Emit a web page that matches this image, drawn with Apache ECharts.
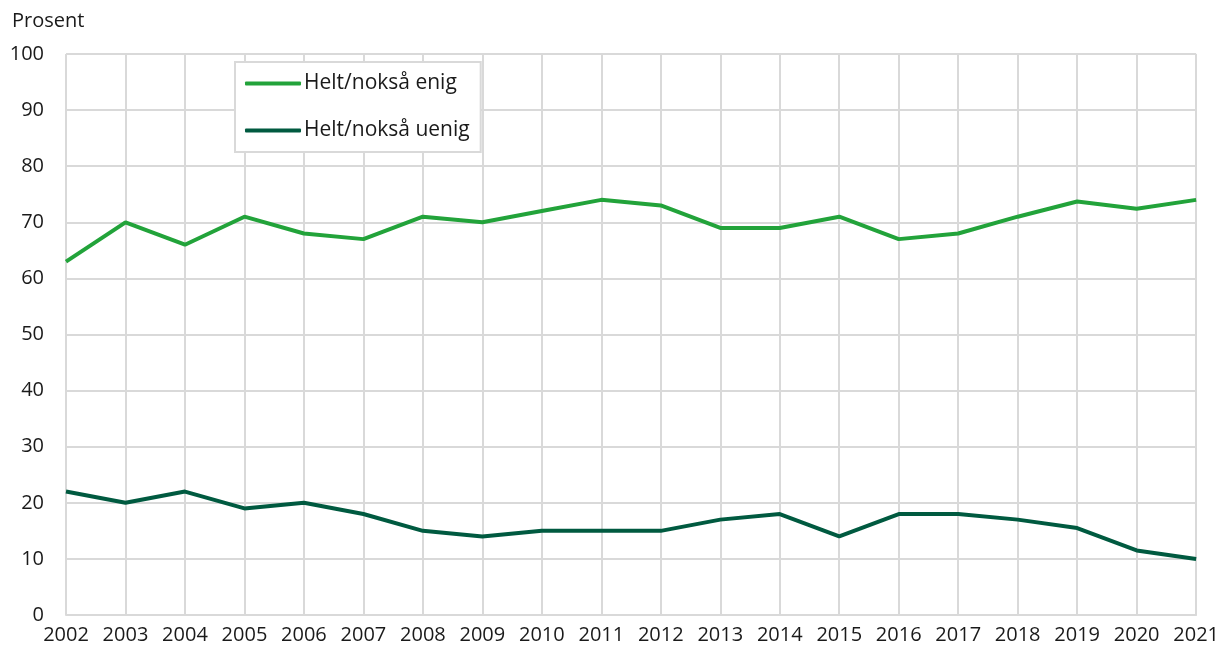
<!DOCTYPE html>
<html>
<head>
<meta charset="utf-8">
<script src="https://cdn.jsdelivr.net/npm/echarts@6/dist/echarts.min.js"></script>
<style>
  html, body { margin: 0; padding: 0; background: #fff; }
  #chart { width: 1222px; height: 648px; }
</style>
</head>
<body>
<div id="chart"></div>
<script>
var years = ['2002', '2003', '2004', '2005', '2006', '2007', '2008', '2009', '2010', '2011',
  '2012', '2013', '2014', '2015', '2016', '2017', '2018', '2019', '2020', '2021']
var enig = [63, 70, 66, 71, 68, 67, 71, 70, 72, 74, 73, 69, 69, 71, 67, 68, 71, 73.7, 72.4, 74]
var uenig = [22, 20, 22, 19, 20, 18, 15, 14, 15, 15, 15, 17, 18, 14, 18, 18, 17, 15.5, 11.5, 10]

var myChart = echarts.init(document.getElementById('chart'))
var font = '"Open Sans", sans-serif'
var gridColor = '#d9d9d9'

var option = {
  animation: false,
  textStyle: { fontFamily: font },
  title: {
    text: 'Prosent',
    left: 7,
    top: 6,
    textStyle: { fontFamily: font, fontSize: 20, fontWeight: 'normal', color: '#1a1a1a' }
  },
  legend: {
    orient: 'vertical',
    left: 235,
    top: 62,
    padding: [11, 11, 11, 10],
    itemGap: 26,
    itemWidth: 56,
    itemHeight: 4,
    icon: 'roundRect',
    borderColor: gridColor,
    borderWidth: 2,
    backgroundColor: '#fff',
    textStyle: { fontFamily: font, fontSize: 21, color: '#1a1a1a', padding: [0, 0, 0, -2] },
    data: ['Helt/nokså enig', 'Helt/nokså uenig']
  },
  grid: {
    left: 66,
    right: 24,
    top: 54,
    bottom: 33,
    containLabel: false
  },
  xAxis: {
    type: 'category',
    data: years,
    boundaryGap: false,
    axisLine: { lineStyle: { color: gridColor, width: 2 } },
    axisTick: { show: false },
    axisLabel: { color: '#1a1a1a', fontSize: 20, margin: 10, fontFamily: font },
    splitLine: { show: true, lineStyle: { color: gridColor, width: 2 } }
  },
  yAxis: {
    type: 'value',
    min: 0,
    max: 100,
    interval: 10,
    axisLine: { show: false },
    axisTick: { show: false },
    axisLabel: { color: '#1a1a1a', fontSize: 20, margin: 22, fontFamily: font },
    splitLine: { lineStyle: { color: gridColor, width: 2 } }
  },
  series: [
    {
      name: 'Helt/nokså enig',
      type: 'line',
      data: enig,
      symbol: 'none',
      color: '#22a33a',
      lineStyle: { width: 4, color: '#22a33a' }
    },
    {
      name: 'Helt/nokså uenig',
      type: 'line',
      data: uenig,
      symbol: 'none',
      color: '#005a40',
      lineStyle: { width: 4, color: '#005a40' }
    }
  ]
}

option && myChart.setOption(option)
</script>
</body>
</html>
